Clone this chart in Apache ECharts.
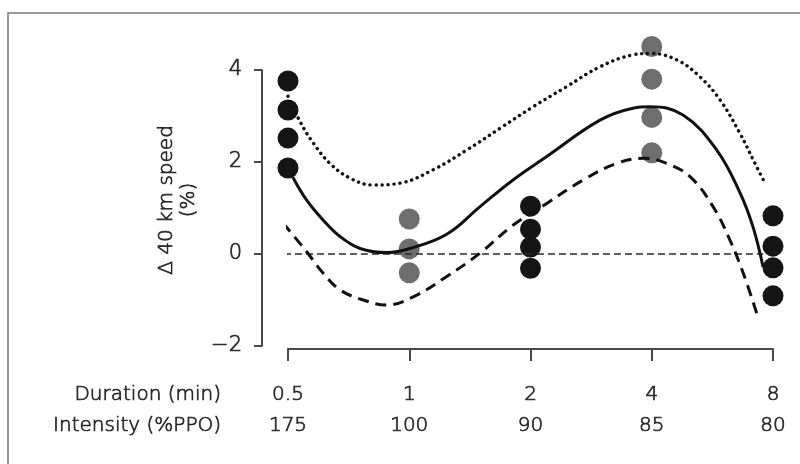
<!DOCTYPE html>
<html>
<head>
<meta charset="utf-8">
<script src="https://cdn.jsdelivr.net/npm/echarts@6/dist/echarts.min.js"></script>
<style>
html,body{margin:0;padding:0;background:#fff;}
#chart{width:800px;height:464px;}
</style>
</head>
<body>
<div id="chart"></div>
<script>
// ---- data ----
const durationLabels = ['0.5', '1', '2', '4', '8'];
const intensityLabels = ['175', '100', '90', '85', '80'];
const yTicks = [-2, 0, 2, 4];

// individual responses (Δ 40 km speed, %) per category index
const blackPoints = [
  [0, 3.76], [0, 3.13], [0, 2.52], [0, 1.87],
  [2, 1.04], [2, 0.54], [2, 0.15], [2, -0.31],
  [4, 0.83], [4, 0.17], [4, -0.30], [4, -0.91]
];
const grayPoints = [
  [1, 0.76], [1, 0.11], [1, -0.41],
  [3, 4.51], [3, 3.80], [3, 2.97], [3, 2.20]
];

// fitted curve (solid), upper (dotted) and lower (dashed) bands
const meanCurve = [
  [0.04, 1.67], [0.154, 1.17], [0.289, 0.74], [0.429, 0.38], [0.594, 0.12],
  [0.814, 0.03], [1.006, 0.12], [1.309, 0.43], [1.584, 1.03], [1.856, 1.61],
  [2.134, 2.12], [2.573, 2.91], [2.845, 3.17], [2.986, 3.20], [3.258, 3.02],
  [3.536, 2.26], [3.728, 1.33], [3.835, 0.59], [3.918, -0.28]
];
const upperCurve = [
  [0.0, 3.43], [0.099, 2.88], [0.209, 2.41], [0.346, 1.97], [0.511, 1.65],
  [0.701, 1.50], [0.924, 1.54], [1.196, 1.83], [1.474, 2.26], [1.753, 2.74],
  [2.021, 3.20], [2.299, 3.64], [2.573, 4.07], [2.845, 4.33], [2.986, 4.36],
  [3.206, 4.22], [3.398, 3.85], [3.563, 3.35], [3.728, 2.62], [3.838, 2.04],
  [3.934, 1.54]
];
const lowerCurve = [
  [-0.04, 0.67], [0.154, 0.05], [0.291, -0.42], [0.429, -0.78], [0.621, -1.00],
  [0.814, -1.11], [1.033, -0.93], [1.309, -0.49], [1.584, 0.02], [1.858, 0.63],
  [2.134, 1.10], [2.435, 1.61], [2.711, 1.97], [2.930, 2.08], [3.123, 1.97],
  [3.316, 1.68], [3.508, 1.02], [3.645, 0.30], [3.755, -0.42], [3.866, -1.29]
];
const zeroLine = [[-0.215, 0], [3.92, 0]];

// ---- chart ----
const FONT = 'DejaVu Sans';
const FW = 200;
const TXT = '#262626';
const TB = 0.7;
const AX = '#4a4a4a';
const chart = echarts.init(document.getElementById('chart'), null, {renderer: 'canvas'});

const txtStyle = (text, extra) => Object.assign({
  text: text, fontFamily: FONT, fontWeight: FW, fontSize: 20, fill: TXT,
  stroke: TXT, lineWidth: TB
}, extra);

const option = {
  backgroundColor: '#fff',
  animation: false,
  grid: {left: 288, right: 27, top: 70, height: 276},
  xAxis: {
    type: 'value', min: 0, max: 4, interval: 1,
    offset: 3,
    splitLine: {show: false},
    axisLine: {show: true, onZero: false, lineStyle: {color: AX, width: 2}},
    axisTick: {show: true, length: 12, lineStyle: {color: AX, width: 2}},
    axisLabel: {
      margin: 30,
      fontFamily: FONT, fontWeight: FW, fontSize: 20, color: TXT, lineHeight: 31,
      textBorderColor: TXT, textBorderWidth: TB,
      formatter: v => durationLabels[v] + '\n' + intensityLabels[v]
    }
  },
  yAxis: {
    type: 'value', min: yTicks[0], max: yTicks[yTicks.length - 1], interval: 2,
    offset: 26,
    splitLine: {show: false},
    axisLine: {show: true, onZero: false, lineStyle: {color: AX, width: 2}},
    axisTick: {show: true, length: 8, lineStyle: {color: AX, width: 2}},
    axisLabel: {
      margin: 20,
      fontFamily: FONT, fontWeight: FW, fontSize: 21, color: TXT,
      textBorderColor: TXT, textBorderWidth: TB,
      formatter: v => String(v).replace('-', '\u2212')
    }
  },
  graphic: [
    {type: 'rect', shape: {x: 8, y: 13, width: 820, height: 480},
     style: {fill: 'none', stroke: '#7a7a7a', lineWidth: 1.5}, silent: true},
    {type: 'text', x: 221, y: 395,
     style: txtStyle('Duration (min)', {textAlign: 'right', textVerticalAlign: 'middle'})},
    {type: 'text', x: 221, y: 426,
     style: txtStyle('Intensity (%PPO)', {textAlign: 'right', textVerticalAlign: 'middle'})},
    {type: 'text', x: 178, y: 200, rotation: Math.PI / 2,
     style: txtStyle('\u0394 40 km speed\n(%)',
       {textAlign: 'center', textVerticalAlign: 'middle', lineHeight: 22})}
  ],
  series: [
    {type: 'scatter', data: blackPoints, symbolSize: 21, z: 2, clip: false,
     itemStyle: {color: '#151515', opacity: 1}},
    {type: 'scatter', data: grayPoints, symbolSize: 21, z: 2, clip: false,
     itemStyle: {color: '#6e6e6e', opacity: 1}},
    {type: 'line', data: zeroLine, showSymbol: false, clip: false, z: 3,
     lineStyle: {color: '#2a2a2a', width: 1.7, type: [7, 4]}},
    {type: 'line', data: meanCurve, smooth: 0.4, showSymbol: false, clip: false, z: 4,
     lineStyle: {color: '#111', width: 3}},
    {type: 'line', data: upperCurve, smooth: 0.4, showSymbol: false, clip: false, z: 4,
     lineStyle: {color: '#111', width: 3.4, type: [0.1, 5.9], cap: 'round'}},
    {type: 'line', data: lowerCurve, smooth: 0.4, showSymbol: false, clip: false, z: 4,
     lineStyle: {color: '#111', width: 3, type: [11, 7]}}
  ]
};
chart.setOption(option);
</script>
</body>
</html>
